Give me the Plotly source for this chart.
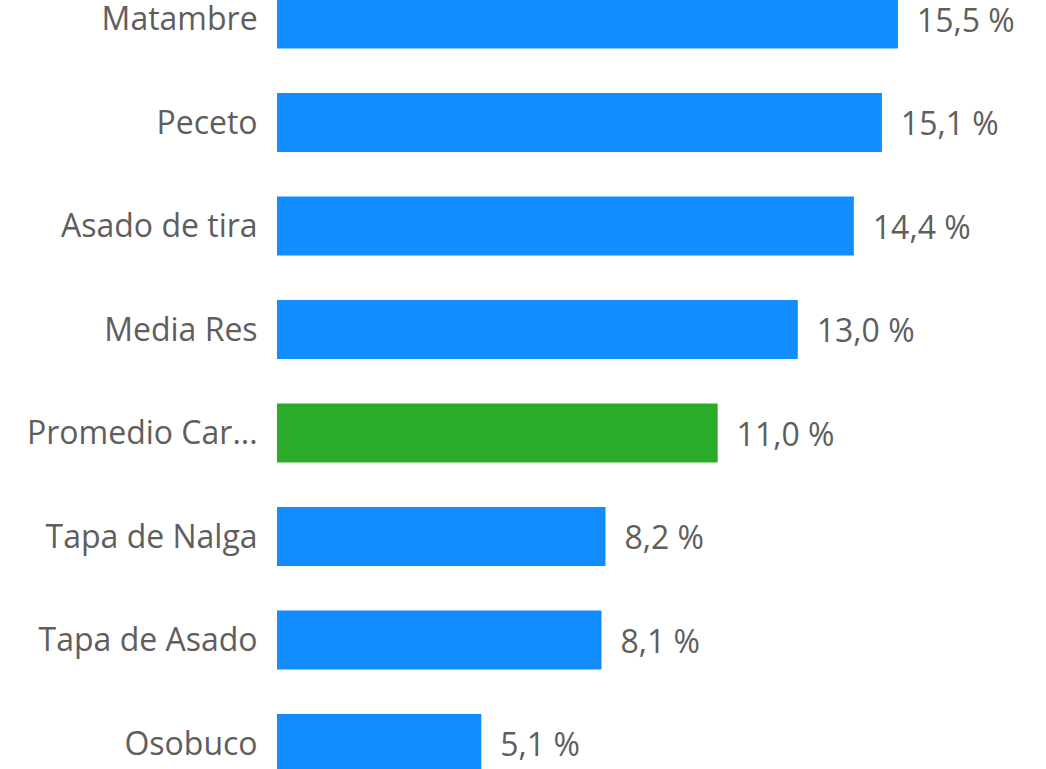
import plotly.graph_objects as go

categories = ["Matambre", "Peceto", "Asado de tira", "Media Res", "Promedio Car...",
              "Tapa de Nalga", "Tapa de Asado", "Osobuco"]
values = [15.5, 15.1, 14.4, 13.0, 11.0, 8.2, 8.1, 5.1]
bar_colors = ["#118DFF", "#118DFF", "#118DFF", "#118DFF", "#2AAB2A",
              "#118DFF", "#118DFF", "#118DFF"]
value_labels = [f"{v:.1f} %".replace(".", ",") for v in values]

FONT = "Open Sans"
GRAY = "#605E5C"

fig = go.Figure(go.Bar(
    x=values, y=categories, orientation="h",
    marker=dict(color=bar_colors, line=dict(width=0)),
    text=["\u2009\u2009\u2009" + t for t in value_labels],
    textposition="outside", cliponaxis=False,
    textfont=dict(family=FONT, size=32, color=GRAY),
    width=0.57,
))

fig.update_layout(
    width=1046, height=769,
    margin=dict(l=277, r=0, t=0, b=0, pad=0, autoexpand=False),
    paper_bgcolor="white", plot_bgcolor="white",
    showlegend=False,
    font=dict(family=FONT, color=GRAY),
)
fig.update_xaxes(range=[0, 769 / 40.06], visible=False, showgrid=False,
                 zeroline=False, automargin=False)
fig.update_yaxes(
    type="category", categoryorder="array", categoryarray=categories,
    range=[7.246, -0.184], showgrid=False, zeroline=False, showline=False,
    ticks="outside", ticklen=12, tickcolor="rgba(0,0,0,0)", automargin=False,
    tickfont=dict(family=FONT, size=32, color=GRAY),
)

fig.write_html("out.html", config={"displayModeBar": False})
